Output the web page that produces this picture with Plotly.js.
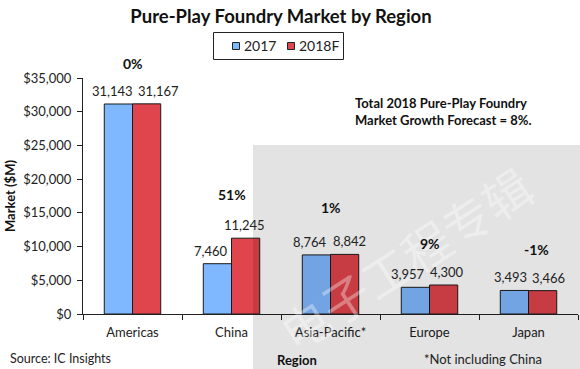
<!DOCTYPE html>
<html>
<head>
<meta charset="utf-8">
<script src="https://cdn.plot.ly/plotly-3.0.1.min.js"></script>
<style>html,body{margin:0;padding:0;background:#fff;}#chart{width:580px;height:369px;}</style>
</head>
<body>
<div id="chart"></div>
<script>
// ---- data ----
const categories = ['Americas', 'China', 'Asia-Pacific*', 'Europe', 'Japan'];
const values2017 = [31143, 7460, 8764, 3957, 3493];
const values2018 = [31167, 11245, 8842, 4300, 3466];
const growthLabels = ['0%', '51%', '1%', '9%', '-1%'];
const seriesNames = ['2017', '2018F'];
const yTickVals = [0, 5000, 10000, 15000, 20000, 25000, 30000, 35000];

// ---- style ----
const FONT = 'Lato, "Liberation Sans", sans-serif';
const blue = '#80b8ff';
const red = '#e0444c';
const blueShift = [-20, -21, -21, -22, -18];
const redShift = [26, 13, 19, 17, 20];
const pctShiftY = [40, 44, 47, 42, 41];
const pctShiftX = [0, 0, 0, 0, 8];

const fmt = v => v.toLocaleString('en-US');
const px = X => (X - 83) / 495;   // pixel -> paper x
const py = Y => (314 - Y) / 236;  // pixel -> paper y

const traces = [
  {type: 'bar', name: seriesNames[0], x: categories, y: values2017,
   marker: {color: blue, line: {color: '#1a1a1a', width: 1}}, hoverinfo: 'x+y'},
  {type: 'bar', name: seriesNames[1], x: categories, y: values2018,
   marker: {color: red, line: {color: '#1a1a1a', width: 1}}, hoverinfo: 'x+y'}
];

const annotations = [
  {xref: 'paper', yref: 'paper', x: px(405), y: py(258), xanchor: 'center', yanchor: 'middle',
   showarrow: false, text: '电子工程专辑', textangle: -33,
   font: {family: '"Noto Sans CJK SC", sans-serif', size: 48, color: 'rgba(255,255,255,0.35)'}}
];
categories.forEach((c, i) => {
  annotations.push({x: c, y: values2017[i], xref: 'x', yref: 'y', text: fmt(values2017[i]),
    showarrow: false, yanchor: 'bottom', yshift: 3, xshift: blueShift[i],
    font: {family: FONT, size: 13, color: '#222'}});
  annotations.push({x: c, y: values2018[i], xref: 'x', yref: 'y', text: fmt(values2018[i]),
    showarrow: false, yanchor: 'bottom', yshift: 3, xshift: redShift[i],
    font: {family: FONT, size: 13, color: '#222'}});
  annotations.push({x: c, y: Math.max(values2017[i], values2018[i]), xref: 'x', yref: 'y',
    text: '<b>' + growthLabels[i] + '</b>', showarrow: false, yanchor: 'middle',
    yshift: pctShiftY[i], xshift: pctShiftX[i],
    font: {family: FONT, size: 14, color: '#111'}});
});
annotations.push(
  {xref: 'paper', yref: 'paper', x: px(353), y: py(111), xanchor: 'left', yanchor: 'middle',
   align: 'left', showarrow: false,
   text: '<b>Total 2018 Pure-Play Foundry<br>Market Growth Forecast = 8%.</b>',
   font: {family: FONT, size: 13, color: '#111'}},
  {xref: 'paper', yref: 'paper', x: px(8), y: py(358), xanchor: 'left', yanchor: 'middle',
   showarrow: false, text: 'Source: IC Insights', font: {family: FONT, size: 12.5, color: '#222'}},
  {xref: 'paper', yref: 'paper', x: px(297), y: py(360), xanchor: 'center', yanchor: 'middle',
   showarrow: false, text: '<b>Region</b>', font: {family: FONT, size: 13, color: '#111'}},
  {xref: 'paper', yref: 'paper', x: px(483), y: py(359), xanchor: 'center', yanchor: 'middle',
   showarrow: false, text: '*Not including China', font: {family: FONT, size: 13, color: '#222'}},
  // legend labels
  {xref: 'paper', yref: 'paper', x: px(242), y: py(46), xanchor: 'left', yanchor: 'middle',
   showarrow: false, text: seriesNames[0], font: {family: FONT, size: 14, color: '#222'}},
  {xref: 'paper', yref: 'paper', x: px(297), y: py(46), xanchor: 'left', yanchor: 'middle',
   showarrow: false, text: seriesNames[1], font: {family: FONT, size: 14, color: '#222'}}
);

const shapes = [
  {type: 'rect', xref: 'paper', yref: 'paper', x0: px(253), x1: px(582), y0: py(372), y1: py(145),
   fillcolor: 'rgba(0,0,0,0.11)', line: {width: 0}, layer: 'above'},
  // legend box and keys
  {type: 'rect', xref: 'paper', yref: 'paper', x0: px(213.5), x1: px(343.5), y0: py(59.5), y1: py(32.5),
   fillcolor: '#fff', line: {color: '#222', width: 1}, layer: 'above'},
  {type: 'rect', xref: 'paper', yref: 'paper', x0: px(232.5), x1: px(239.5), y0: py(49.5), y1: py(42.5),
   fillcolor: blue, line: {color: '#222', width: 1}, layer: 'above'},
  {type: 'rect', xref: 'paper', yref: 'paper', x0: px(287.5), x1: px(294.5), y0: py(49.5), y1: py(42.5),
   fillcolor: red, line: {color: '#222', width: 1}, layer: 'above'}
];

const layout = {
  width: 580, height: 369,
  margin: {l: 83, r: 2, t: 78, b: 55, pad: 0},
  paper_bgcolor: '#ffffff', plot_bgcolor: 'rgba(0,0,0,0)',
  font: {family: FONT, size: 13, color: '#222'},
  title: {text: '<b>Pure-Play Foundry Market by Region</b>', x: 281 / 580, xanchor: 'center',
          y: 1 - 17 / 369, yanchor: 'middle', font: {family: FONT, size: 18.5, color: '#111'}},
  barmode: 'group', bargap: 0.43, bargroupgap: 0,
  showlegend: false,
  xaxis: {type: 'category', showline: true, linecolor: '#222', linewidth: 1, ticks: 'outside',
          tickson: 'boundaries', ticklen: 5, tickcolor: '#222', showgrid: false, zeroline: false,
          ticklabelstandoff: 6,
          tickfont: {family: FONT, size: 13, color: '#222'}, fixedrange: true},
  yaxis: {range: [0, 35000], tickvals: yTickVals, tickformat: '$,.0f', showline: true, linecolor: '#222',
          linewidth: 1, ticks: 'outside', ticklen: 5, tickcolor: '#222', showgrid: false, zeroline: false,
          ticklabelstandoff: 3,
          tickfont: {family: FONT, size: 13, color: '#222'},
          title: {text: '<b>Market ($M)</b>', standoff: 4, font: {family: FONT, size: 13, color: '#111'}},
          fixedrange: true},
  shapes: shapes,
  annotations: annotations
};

Plotly.newPlot('chart', traces, layout, {displayModeBar: false, staticPlot: true});
</script>
</body>
</html>
